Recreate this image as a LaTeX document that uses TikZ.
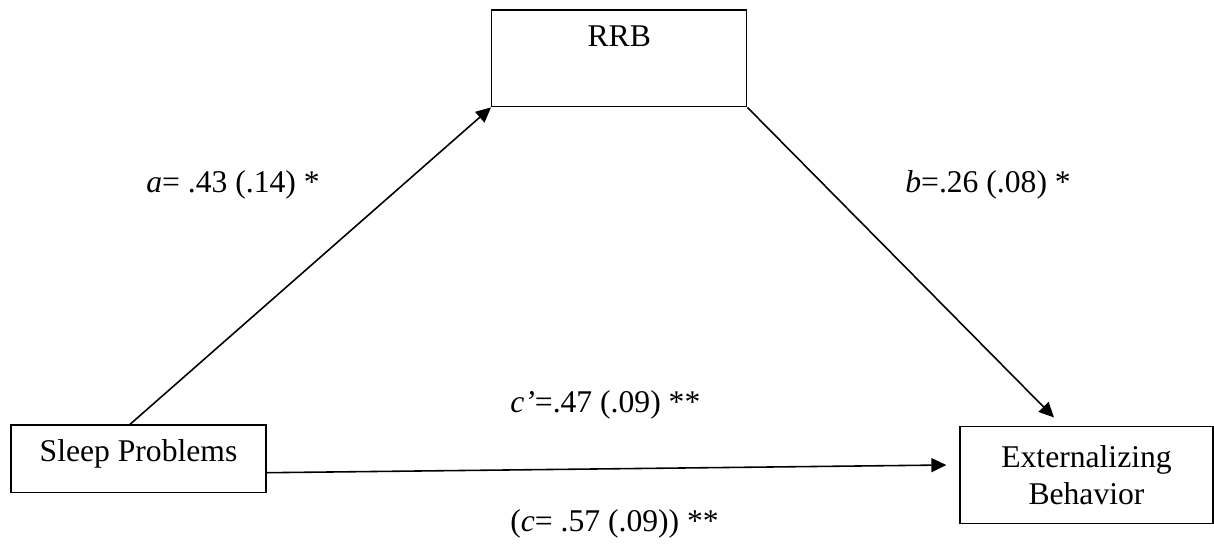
\documentclass[tikz,border=0pt]{standalone}
\usepackage{fontspec}
\setmainfont{Liberation Serif}
\usepackage{tikz}
\usetikzlibrary{arrows.meta, positioning}
\tikzstyle{arr} = [line width=0.9pt, -{Triangle[length=0.3cm, width=0.28cm]}]

\begin{document}
\begin{tikzpicture}[
        x=0.02cm, y=-0.02cm,
        every node/.style={font=\fontsize{18}{21}\selectfont},
        box/.style={rectangle, draw, line width=0.8pt, inner sep=0pt,
            minimum width=5.1cm, text centered},
        lbl/.style={inner sep=0pt, anchor=base west}
    ]
    \useasboundingbox (0,0) rectangle (1214,546);
    % variables
    \node (rrb)   [box, anchor=base, text height=0.733cm, text depth=1.2cm]
        at (619.2,46.7) {RRB};
    \node (sleep) [box, anchor=base, text height=0.733cm, text depth=0.62cm]
        at (138.5,461.7) {Sleep Problems};
    \node (ext)   [box, align=center, minimum width=5.06cm, minimum height=1.933cm]
        at (1086.5,475) {Externalizing\\Behavior};
    % paths
    \draw [arr] ([xshift=-0.17cm]sleep.north) -- (rrb.south west);
    \draw [arr] (rrb.south east) -- ([xshift=-0.65cm, yshift=0.17cm]ext.north);
    \draw [arr] ([yshift=-0.277cm]sleep.east) -- ([xshift=-0.26cm, yshift=0.2cm]ext.west);
    % coefficients
    \node (pa)  [lbl] at (146,192.7) {\textit{a}= .43 (.14) *};
    \node (pb)  [lbl] at (905,192.7) {\textit{b}=.26 (.08) *};
    \node (pcp) [lbl] at (510,412.7) {\textit{c'}=.47 (.09) **};
    \node (pc)  [lbl] at (510,531.7) {(\textit{c}= .57 (.09)) **};
\end{tikzpicture}
\end{document}
